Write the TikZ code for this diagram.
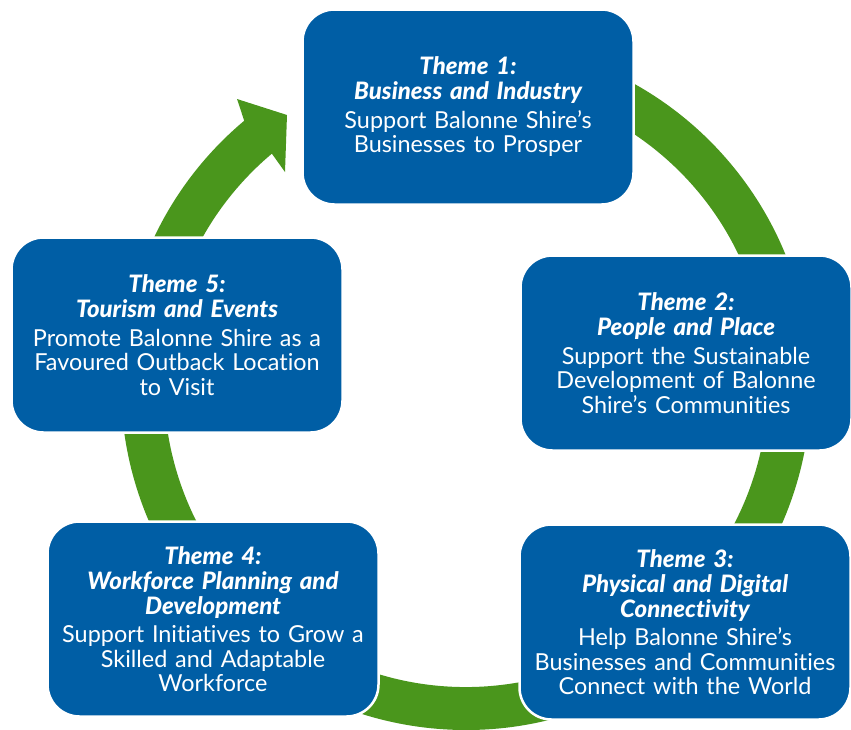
\documentclass[tikz,border=0pt]{standalone}
\usepackage{fontspec}
\setmainfont{Lato}[Ligatures=NoCommon, BoldItalicFont={* Black Italic}]
\usepackage{tikz}
\usetikzlibrary{calc}
\definecolor{themeblue}{RGB}{0,94,165}
\definecolor{ringgreen}{RGB}{74,150,28}
\tikzset{
  theme/.style={draw=white, line width=2.5pt, fill=themeblue, rounded corners=32pt,
    minimum width=331pt, minimum height=195pt, text width=326pt, inner sep=0pt,
    text=white, align=center, font=\fontsize{23.4}{24.5}\selectfont},
}
\newcommand{\themettl}[1]{{\fontsize{24}{25}\selectfont\bfseries\itshape #1\par}\vspace{4pt}}

\begin{document}
\begin{tikzpicture}[x=1pt, y=-1pt]
  \useasboundingbox (0,0) rectangle (851,729);
  % green ring with arrow head
  \coordinate (c) at (466,385);
  \fill[ringgreen] ($(c)+(230:345)$) arc[start angle=230, end angle=-100, radius=345]
    -- ($(c)+(-100:302)$) arc[start angle=-100, end angle=230, radius=302]
    -- (285,172) -- (287,115) -- (237,99) -- cycle;
  % themes
  \node[theme] (t1) at (468,107) {\themettl{Theme 1:\\Business and Industry}Support Balonne Shire’s\\Businesses to Prosper};
  \node[theme] (t2) at (686,353) {\themettl{Theme 2:\\People and Place}Support the Sustainable\\Development of Balonne\\Shire’s Communities};
  \node[theme] (t3) at (685,622) {\themettl{Theme 3:\\Physical and Digital\\Connectivity}Help Balonne Shire’s\\Businesses and Communities\\Connect with the World};
  \node[theme] (t4) at (213,619) {\themettl{Theme 4:\\Workforce Planning and\\Development}Support Initiatives to Grow a\\Skilled and Adaptable\\Workforce};
  \node[theme] (t5) at (177,335) {\themettl{Theme 5:\\Tourism and Events}Promote Balonne Shire as a\\Favoured Outback Location\\to Visit};
\end{tikzpicture}
\end{document}
